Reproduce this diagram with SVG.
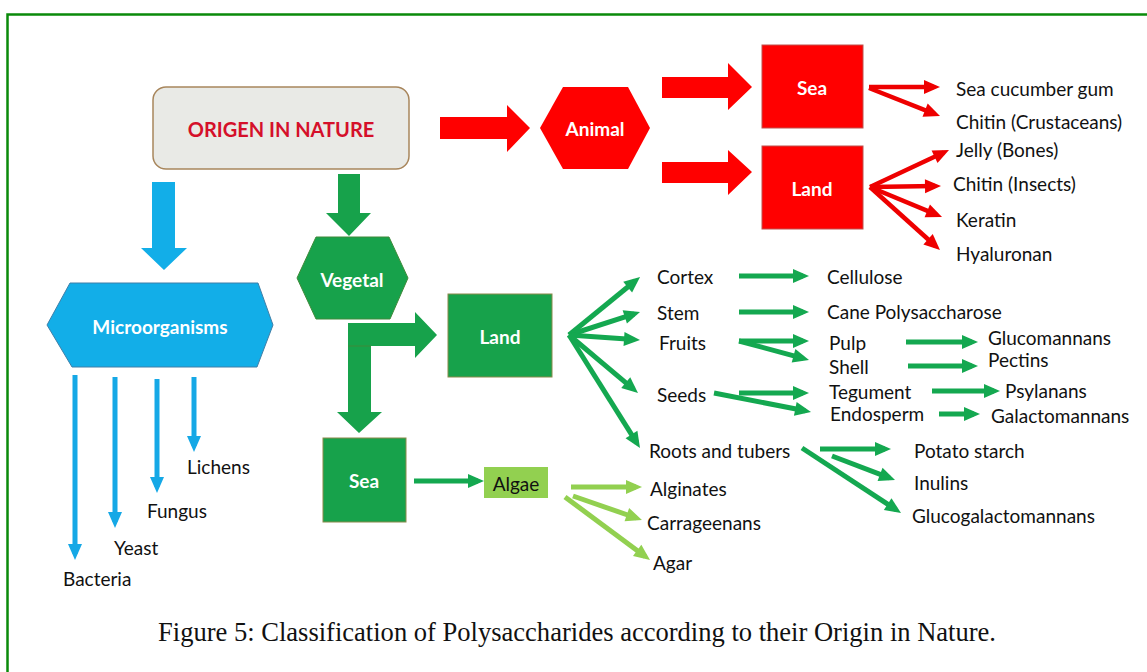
<svg xmlns="http://www.w3.org/2000/svg" width="1147" height="672" viewBox="0 0 1147 672">
<style>
text{font-family:Lato,"Liberation Sans",sans-serif;}
.lbl{font-size:19px;fill:#111;dominant-baseline:central;}
.wb{font-size:19px;font-weight:bold;fill:#fff;text-anchor:middle;dominant-baseline:central;}
.red{fill:#ff0000;}
.grn{fill:#17a24b;}
.blu{fill:#12aee8;}
.lr{stroke:#ee0000;stroke-width:4.5;fill:none;marker-end:url(#mr);}
.lg{stroke:#14a850;stroke-width:5;fill:none;marker-end:url(#mg);}
.ll{stroke:#92d050;stroke-width:5;fill:none;marker-end:url(#ml);}
.lb{stroke:#15a8e6;stroke-width:5;fill:none;marker-end:url(#mb);}
</style>
<defs>
<marker id="mr" markerUnits="userSpaceOnUse" markerWidth="16" markerHeight="14" refX="10" refY="7" orient="auto" overflow="visible"><path d="M0,0 L16,7 L0,14 z" fill="#ee0000"/></marker>
<marker id="mg" markerUnits="userSpaceOnUse" markerWidth="16" markerHeight="14" refX="10" refY="7" orient="auto" overflow="visible"><path d="M0,0 L16,7 L0,14 z" fill="#14a850"/></marker>
<marker id="ml" markerUnits="userSpaceOnUse" markerWidth="16" markerHeight="14" refX="10" refY="7" orient="auto" overflow="visible"><path d="M0,0 L16,7 L0,14 z" fill="#92d050"/></marker>
<marker id="mb" markerUnits="userSpaceOnUse" markerWidth="16" markerHeight="14" refX="10" refY="7" orient="auto" overflow="visible"><path d="M0,0 L16,7 L0,14 z" fill="#15a8e6"/></marker>
</defs>
<rect width="1147" height="672" fill="#fff"/>
<rect x="7.5" y="14.5" width="1150" height="670" fill="none" stroke="#0a8a0a" stroke-width="2.5"/>

<g id="connectors">
  <!-- big block arrows -->
  <polygon class="red" points="440,117 507,117 507,105 530,128 507,152 507,139 440,139"/>
  <polygon class="red" points="662,77 728,77 728,63 752,87 728,110 728,98 662,98"/>
  <polygon class="red" points="662,162 728,162 728,150 752,172 728,195 728,183 662,183"/>
  <polygon class="blu" points="152,182 175,182 175,248 187,248 164,270 141,248 152,248"/>
  <polygon class="grn" points="338,174 360,174 360,213 371,213 349,236 326,213 338,213"/>
  <polygon class="grn" points="348,323 415,323 415,312 437,335 415,358 415,346 371,346 371,412 382,412 359,433 337,412 348,412"/>
  <line x1="348" y1="346" x2="371" y2="346" stroke="#3f8a3a" stroke-width="1"/>
  <!-- red thin -->
  <line class="lr" x1="869" y1="87" x2="934" y2="87"/>
  <line class="lr" x1="869" y1="88" x2="934.4" y2="113.8"/>
  <line class="lr" x1="870" y1="187" x2="943.6" y2="152.5"/>
  <line class="lr" x1="870" y1="187" x2="935" y2="186.1"/>
  <line class="lr" x1="870" y1="187" x2="936.5" y2="214.7"/>
  <line class="lr" x1="870" y1="187" x2="935.5" y2="246"/>
  <!-- green thin from Land -->
  <line class="lg" x1="569" y1="335" x2="635.4" y2="280.8"/>
  <line class="lg" x1="569" y1="335" x2="634.3" y2="313.8"/>
  <line class="lg" x1="569" y1="335" x2="634" y2="339.6"/>
  <line class="lg" x1="569" y1="335" x2="633.4" y2="389.1"/>
  <line class="lg" x1="569" y1="335" x2="636.8" y2="442.9"/>
  <line class="lg" x1="739" y1="276" x2="803" y2="276"/>
  <line class="lg" x1="739" y1="312" x2="803" y2="312"/>
  <line class="lg" x1="739" y1="341" x2="803" y2="341"/>
  <line class="lg" x1="739" y1="341" x2="803.2" y2="358.4"/>
  <line class="lg" x1="906" y1="342" x2="972" y2="342"/>
  <line class="lg" x1="908" y1="366" x2="972" y2="366"/>
  <line class="lg" x1="739" y1="393" x2="803" y2="393"/>
  <line class="lg" x1="714" y1="393" x2="805.1" y2="410.8"/>
  <line class="lg" x1="932" y1="391" x2="994" y2="391"/>
  <line class="lg" x1="939" y1="414" x2="974" y2="414"/>
  <line class="lg" x1="820" y1="449" x2="885" y2="449"/>
  <line class="lg" x1="832" y1="456" x2="889.4" y2="477.9"/>
  <line class="lg" x1="802" y1="448" x2="896" y2="509.7"/>
  <line class="lg" x1="414" y1="481" x2="478" y2="481"/>
  <!-- light green from Algae -->
  <line class="ll" x1="571" y1="487" x2="636" y2="487"/>
  <line class="ll" x1="573" y1="496" x2="636.3" y2="518"/>
  <line class="ll" x1="565" y1="497" x2="645.2" y2="556.4"/>
  <!-- blue thin -->
  <line class="lb" x1="75" y1="375" x2="75" y2="554"/>
  <line class="lb" x1="115" y1="377" x2="115" y2="522"/>
  <line class="lb" x1="157" y1="379" x2="157" y2="487"/>
  <line class="lb" x1="194" y1="377" x2="194" y2="446"/>
</g>

<g id="origen">
  <rect x="153" y="87" width="256" height="82" rx="13" fill="#e9eae6" stroke="#a8865c" stroke-width="1.5"/>
  <text x="281" y="129" font-size="20" font-weight="bold" fill="#d5102a" text-anchor="middle" dominant-baseline="central">ORIGEN IN NATURE</text>
</g>
<g id="animal">
  <polygon class="red" points="540,128 563,87 628,87 650,128 628,169 563,169"/>
  <text class="wb" x="595" y="128">Animal</text>
</g>
<g id="animal-sea">
  <rect x="762" y="45" width="101" height="83" fill="#ff0000" stroke="#c0504d" stroke-width="1"/>
  <text class="wb" x="812" y="87">Sea</text>
</g>
<g id="animal-land">
  <rect x="762" y="146" width="101" height="83" fill="#ff0000" stroke="#c0504d" stroke-width="1"/>
  <text class="wb" x="812" y="188">Land</text>
</g>
<g id="vegetal">
  <polygon class="grn" points="297,278 316,237 389,237 408,278 390,319 316,319" stroke="#3f8a3a" stroke-width="1"/>
  <text class="wb" x="352" y="279">Vegetal</text>
</g>
<g id="vegetal-land">
  <rect x="448" y="294" width="104" height="83" class="grn" stroke="#8a8a4a" stroke-width="1"/>
  <text class="wb" x="500" y="336">Land</text>
</g>
<g id="vegetal-sea">
  <rect x="323" y="438" width="83" height="84" class="grn" stroke="#8a8a4a" stroke-width="1"/>
  <text class="wb" x="364" y="480">Sea</text>
</g>
<g id="algae">
  <rect x="484" y="467" width="64" height="31" fill="#92d050"/>
  <text x="516" y="483" class="lbl" text-anchor="middle">Algae</text>
</g>
<g id="microorganisms">
  <polygon class="blu" points="47,325 70,283 258,283 273,325 257,367 72,367" stroke="#3f7fa8" stroke-width="1"/>
  <text class="wb" x="160" y="326">Microorganisms</text>
</g>

<g id="labels">
  <text class="lbl" x="956" y="88">Sea cucumber gum</text>
  <text class="lbl" x="956" y="121">Chitin (Crustaceans)</text>
  <text class="lbl" x="956" y="149">Jelly (Bones)</text>
  <text class="lbl" x="953" y="183">Chitin (Insects)</text>
  <text class="lbl" x="956" y="219">Keratin</text>
  <text class="lbl" x="956" y="253">Hyaluronan</text>
  <text class="lbl" x="657" y="276">Cortex</text>
  <text class="lbl" x="827" y="276">Cellulose</text>
  <text class="lbl" x="657" y="312">Stem</text>
  <text class="lbl" x="827" y="311">Cane Polysaccharose</text>
  <text class="lbl" x="659" y="342">Fruits</text>
  <text class="lbl" x="829" y="342">Pulp</text>
  <text class="lbl" x="988" y="337">Glucomannans</text>
  <text class="lbl" x="829" y="366">Shell</text>
  <text class="lbl" x="988" y="359">Pectins</text>
  <text class="lbl" x="657" y="394">Seeds</text>
  <text class="lbl" x="829" y="391">Tegument</text>
  <text class="lbl" x="1005" y="390">Psylanans</text>
  <text class="lbl" x="830" y="413">Endosperm</text>
  <text class="lbl" x="991" y="415">Galactomannans</text>
  <text class="lbl" x="649" y="450">Roots and tubers</text>
  <text class="lbl" x="914" y="450">Potato starch</text>
  <text class="lbl" x="914" y="482">Inulins</text>
  <text class="lbl" x="912" y="515">Glucogalactomannans</text>
  <text class="lbl" x="650" y="488">Alginates</text>
  <text class="lbl" x="647" y="522">Carrageenans</text>
  <text class="lbl" x="653" y="562">Agar</text>
  <text class="lbl" x="187" y="466">Lichens</text>
  <text class="lbl" x="147" y="510">Fungus</text>
  <text class="lbl" x="114" y="547">Yeast</text>
  <text class="lbl" x="63" y="578">Bacteria</text>
</g>
<text x="577" y="641" font-size="27" fill="#111" text-anchor="middle" textLength="838" lengthAdjust="spacingAndGlyphs" style="font-family:'Liberation Serif',serif">Figure 5: Classification of Polysaccharides according to their Origin in Nature.</text>
</svg>
